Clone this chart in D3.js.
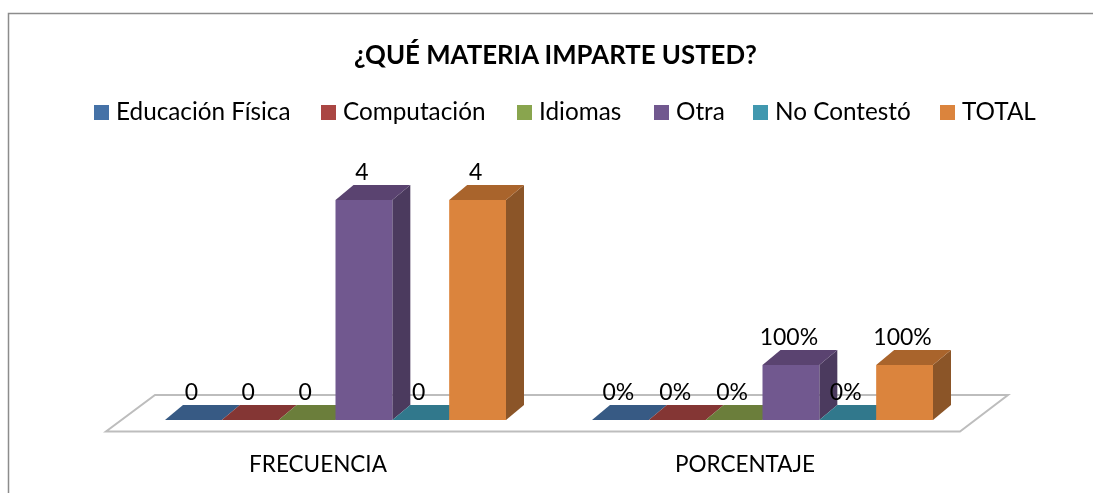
<!DOCTYPE html>
<html>
<head>
<meta charset="utf-8">
<script src="https://cdn.jsdelivr.net/npm/d3@7"></script>
<style>
  html, body { margin: 0; padding: 0; background: #fff; }
  svg { display: block; font-family: Lato, "Open Sans", sans-serif; filter: blur(0.4px); }
</style>
</head>
<body>
<div id="chart"></div>
<script>
const categories = ["FRECUENCIA", "PORCENTAJE"];
const seriesNames = ["Educación Física", "Computación", "Idiomas", "Otra", "No Contestó", "TOTAL"];
const frecuencia = [0, 0, 0, 4, 0, 4];
const porcentaje = [0, 0, 0, 1, 0, 1];
const frontColors = ["#4572a7", "#aa4643", "#89a54e", "#71588f", "#4198af", "#db843d"];
const topColors = ["#375a84", "#843634", "#6b7e3b", "#5a4370", "#31788c", "#a9642c"];
const sideColors = ["#2c4868", "#6a2b2a", "#566530", "#4b3a5e", "#27606f", "#8b5528"];
const legendX = [94, 321, 517, 654, 753, 940];

const width = 1093, height = 493;
const depthX = 18, depthY = 15;

const svg = d3.select("#chart").append("svg")
  .attr("width", width)
  .attr("height", height);

// chart frame, cropped at the right and bottom of the picture
svg.append("path")
  .attr("d", `M8.5,${height}V13.5H${width}`)
  .attr("fill", "none")
  .attr("stroke", "#8c8c8c")
  .attr("stroke-width", 1.5);

svg.append("text")
  .attr("x", 555.5)
  .attr("y", 64)
  .attr("text-anchor", "middle")
  .attr("font-size", 25.8)
  .attr("font-weight", 700)
  .attr("fill", "#000")
  .text("¿QUÉ MATERIA IMPARTE USTED?");

// Legend
const legend = svg.selectAll(".legend").data(seriesNames).enter().append("g")
  .attr("class", "legend")
  .attr("transform", (d, i) => `translate(${legendX[i]},105)`);
legend.append("rect")
  .attr("width", 15)
  .attr("height", 15)
  .attr("fill", (d, i) => frontColors[i]);
legend.append("text")
  .attr("x", 22)
  .attr("y", 15)
  .attr("font-size", 24.3)
  .attr("fill", "#000")
  .text(d => d);

// Scales
const x0 = d3.scaleBand()
  .domain(categories)
  .range([165, 933])
  .paddingInner(86 / 427)
  .paddingOuter(0);

const x1 = d3.scaleBand()
  .domain(seriesNames)
  .range([0, x0.bandwidth()]);

const y = d3.scaleLinear()
  .domain([0, 4])
  .range([420, 200]);

// Floor
const [floorBottom] = y.range();
svg.append("path")
  .attr("d", `M106,${floorBottom + 11.5}H960L1008,${floorBottom - 25}H155Z`)
  .attr("fill", "#fff")
  .attr("stroke", "#bdbdbd")
  .attr("stroke-width", 2);

const displayData = [
  { category: categories[0], values: frecuencia, format: d3.format("d") },
  { category: categories[1], values: porcentaje, format: d3.format(".0%") }
];

const groups = svg.selectAll(".barGroup").data(displayData).enter().append("g")
  .attr("class", "barGroup")
  .attr("transform", d => `translate(${x0(d.category)},0)`);

const bars = groups.selectAll(".bar")
  .data(d => d.values.map((v, i) => ({ name: seriesNames[i], value: v, index: i, format: d.format })))
  .enter().append("g")
  .attr("class", "bar");

// side face
bars.append("path")
  .attr("fill", d => sideColors[d.index])
  .attr("d", d => {
    const r = x1(d.name) + x1.bandwidth();
    return `M${r},${y(d.value)}l${depthX},${-depthY}V${y(0) - depthY}L${r},${y(0)}Z`;
  });

// top face
bars.append("path")
  .attr("fill", d => topColors[d.index])
  .attr("d", d => {
    const l = x1(d.name), w = x1.bandwidth();
    return `M${l},${y(d.value)}l${depthX},${-depthY}h${w}l${-depthX},${depthY}Z`;
  });

// front face
bars.append("rect")
  .attr("fill", d => frontColors[d.index])
  .attr("x", d => x1(d.name))
  .attr("width", x1.bandwidth())
  .attr("y", d => y(d.value))
  .attr("height", d => y(0) - y(d.value));

// Value labels go last so they sit over the bars
groups.selectAll(".value")
  .data(d => d.values.map((v, i) => ({ name: seriesNames[i], value: v, format: d.format })))
  .enter().append("text")
  .attr("class", "value")
  .attr("x", d => x1(d.name) + x1.bandwidth() / 2 - 2)
  .attr("y", d => y(d.value) - 20)
  .attr("text-anchor", "middle")
  .attr("font-size", 23)
  .attr("fill", "#000")
  .text(d => d.format(d.value));

// Category labels
svg.selectAll(".category").data(categories).enter().append("text")
  .attr("class", "category")
  .attr("x", d => x0(d) + x0.bandwidth() / 2 - 17.5)
  .attr("y", 472)
  .attr("text-anchor", "middle")
  .attr("font-size", 22.5)
  .attr("fill", "#000")
  .text(d => d);
</script>
</body>
</html>
